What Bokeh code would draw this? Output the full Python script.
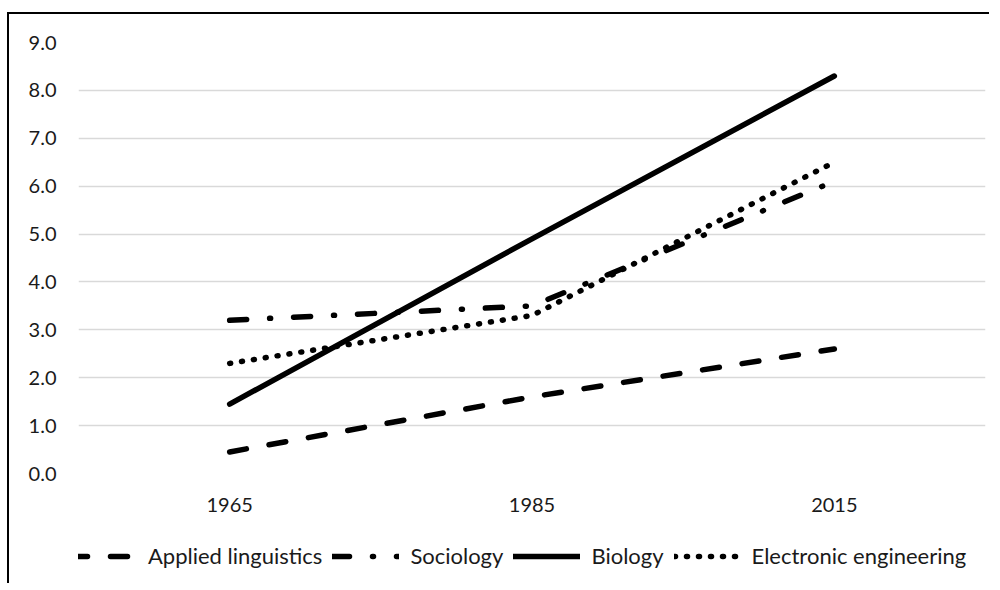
from bokeh.plotting import figure
from bokeh.layouts import column
from bokeh.models import FactorRange, Range1d, FixedTicker, PrintfTickFormatter, Legend, LegendItem
from bokeh.embed import file_html
from bokeh.resources import INLINE

# ---- data ----
years = ["1965", "1985", "2015"]
applied_linguistics = [0.45, 1.6, 2.6]
sociology = [3.2, 3.5, 6.1]
biology = [1.45, 4.9, 8.3]
electronic_engineering = [2.3, 3.3, 6.5]
y_ticks = [0, 1, 2, 3, 4, 5, 6, 7, 8, 9]
series_names = ["Applied linguistics", "Sociology", "Biology", "Electronic engineering"]

FONT = "Lato"
TEXT_COLOR = "#1a1a1a"

p = figure(width=980, height=509,
           x_range=FactorRange(*years, range_padding=0),
           y_range=Range1d(0, 9),
           output_backend="svg", toolbar_location=None,
           min_border_left=69, min_border_right=4,
           min_border_top=28, min_border_bottom=50)
p.outline_line_color = None
p.background_fill_color = "white"
p.border_fill_color = "white"

# grid
p.xgrid.grid_line_color = None
p.ygrid.grid_line_color = "#d9d9d9"
p.ygrid.grid_line_width = 1.5
p.ygrid.ticker = FixedTicker(ticks=y_ticks)

# axes
p.yaxis.ticker = FixedTicker(ticks=y_ticks)
p.yaxis.formatter = PrintfTickFormatter(format="%.1f")
for ax in (p.xaxis[0], p.yaxis[0]):
    ax.axis_line_color = None
    ax.major_tick_line_color = None
    ax.minor_tick_line_color = None
    ax.major_tick_out = 0
    ax.major_tick_in = 0
    ax.major_label_text_font = FONT
    ax.major_label_text_font_size = "20px"
    ax.major_label_text_color = TEXT_COLOR
p.yaxis.major_label_standoff = 22
p.xaxis.major_label_standoff = 24

LW = 5.5
series = [applied_linguistics, sociology, biology, electronic_engineering]
dashes = ["17 23", "17 23 1 23", "solid", "1 11"]
common = dict(line_color="black", line_width=LW, line_cap="round", line_join="round")
for vals, dash in zip(series, dashes):
    p.line(years, vals, line_dash=dash, **common)

# legend strip below the chart (its lines lie outside its view, only the legend shows)
p2 = figure(width=980, height=60, x_range=FactorRange(*years, range_padding=0),
            y_range=Range1d(-20, -19), x_axis_type=None, y_axis_type=None,
            output_backend="svg", toolbar_location=None,
            min_border=0, min_border_left=0, min_border_right=0,
            min_border_top=0, min_border_bottom=0)
p2.grid.visible = False
p2.outline_line_color = None
p2.background_fill_color = "white"
p2.border_fill_color = "white"
items = []
for name, vals, dash in zip(series_names, series, dashes):
    r = p2.line(years, vals, line_dash=dash, **common)
    items.append(LegendItem(label=name, renderers=[r]))

legend = Legend(items=items, orientation="horizontal", location=(-8, 14),
                glyph_width=67, glyph_height=20, label_standoff=11, spacing=10,
                padding=0, margin=0, border_line_color=None, background_fill_alpha=0,
                label_text_font=FONT, label_text_font_size="22px", label_text_color=TEXT_COLOR)
p2.add_layout(legend, "center")

layout = column(p, p2, spacing=0,
                styles={"border-top": "2px solid black", "border-left": "2px solid black",
                        "margin-top": "12px", "margin-left": "7px"})

open("out.html", "w").write(file_html(layout, INLINE))
